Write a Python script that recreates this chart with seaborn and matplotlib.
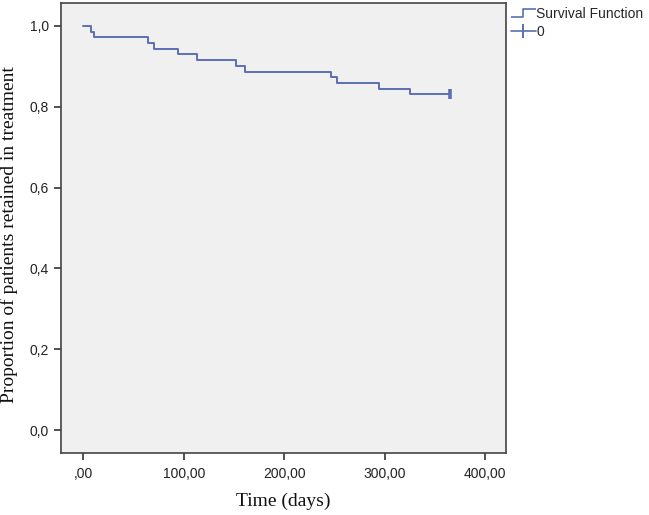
import numpy as np
import pandas as pd
import matplotlib
matplotlib.use("Agg")
import matplotlib.pyplot as plt
from matplotlib.lines import Line2D
from matplotlib.path import Path
from matplotlib.ticker import FuncFormatter
import seaborn as sns

# dados (Kaplan-Meier)
tempo = [0, 8, 11, 64, 70, 94, 113, 152, 161, 246, 252, 294, 325, 365]
sobrevida = [1.0, 0.986, 0.972, 0.958, 0.944, 0.930, 0.915, 0.901, 0.887,
             0.873, 0.859, 0.845, 0.831, 0.831]
tempo_censura = [365]
sobrevida_censura = [0.831]

x_ticks = [0, 100, 200, 300, 400]
y_ticks = [0.0, 0.2, 0.4, 0.6, 0.8, 1.0]

cor = "#5b6fb4"

sns.set_style("ticks")
plt.rcParams['font.family'] = ['Liberation Sans', 'DejaVu Sans']

df = pd.DataFrame({'tempo': tempo, 'sobrevida': sobrevida})
df_c = pd.DataFrame({'tempo': tempo_censura, 'sobrevida': sobrevida_censura})

fig = plt.figure(figsize=(6.49, 5.15), dpi=100)
ax = fig.add_axes([61 / 649, 1 - 452.7 / 515, (506 - 61) / 649, (452.7 - 3.3) / 515])
ax.set_facecolor("#f0f0f0")

sns.lineplot(data=df, x='tempo', y='sobrevida', drawstyle='steps-post',
             color=cor, linewidth=1.4, ax=ax, estimator=None)
sns.scatterplot(data=df_c, x='tempo', y='sobrevida', marker='|', s=45,
                linewidth=2.6, color=cor, ax=ax)

ax.set_xlim(-22.2, 420.6)
ax.set_ylim(-0.056, 1.056)
ax.set_xticks(x_ticks)
ax.set_yticks(y_ticks)
ax.xaxis.set_major_formatter(FuncFormatter(
    lambda v, p: ",00" if v == 0 else f"{v:.2f}".replace(".", ",")))
ax.yaxis.set_major_formatter(FuncFormatter(
    lambda v, p: f"{v:.1f}".replace(".", ",")))
ax.tick_params(axis='both', direction='out', length=5, width=1.2,
               colors='#333333', labelsize=10, labelcolor='#222222')
ax.tick_params(axis='x', pad=5)

for s in ax.spines.values():
    s.set_color('#444444')
    s.set_linewidth(1.2)

ax.set_xlabel("Time (days)", family=['Liberation Serif'], fontsize=14,
              color='#111111', labelpad=9)
ax.set_ylabel("")
fig.text(9 / 649, 1 - 235 / 515, "Proportion of patients retained in treatment",
         rotation=90, ha='center', va='center', family=['Liberation Serif'],
         fontsize=14, color='#111111')

# legenda com simbolo de degrau
degrau = Path([(-1, -0.35), (0, -0.35), (0, 0.35), (1, 0.35)],
              [Path.MOVETO, Path.LINETO, Path.LINETO, Path.LINETO])
h1 = Line2D([], [], color=cor, marker=degrau, markersize=18, linestyle='none',
            markerfacecolor='none', markeredgewidth=1.2)
h2 = Line2D([], [], color=cor, marker='|', markersize=10, linestyle='-',
            linewidth=1.2, markeredgewidth=1.4)
fig.legend([h1, h2], ["Survival Function", "0"], loc='upper left',
           bbox_to_anchor=(505 / 649, 0.997), frameon=False, fontsize=10,
           handlelength=1.8, handletextpad=0.05, labelspacing=0.3,
           borderaxespad=0)

fig.savefig("out.png", dpi=100)
